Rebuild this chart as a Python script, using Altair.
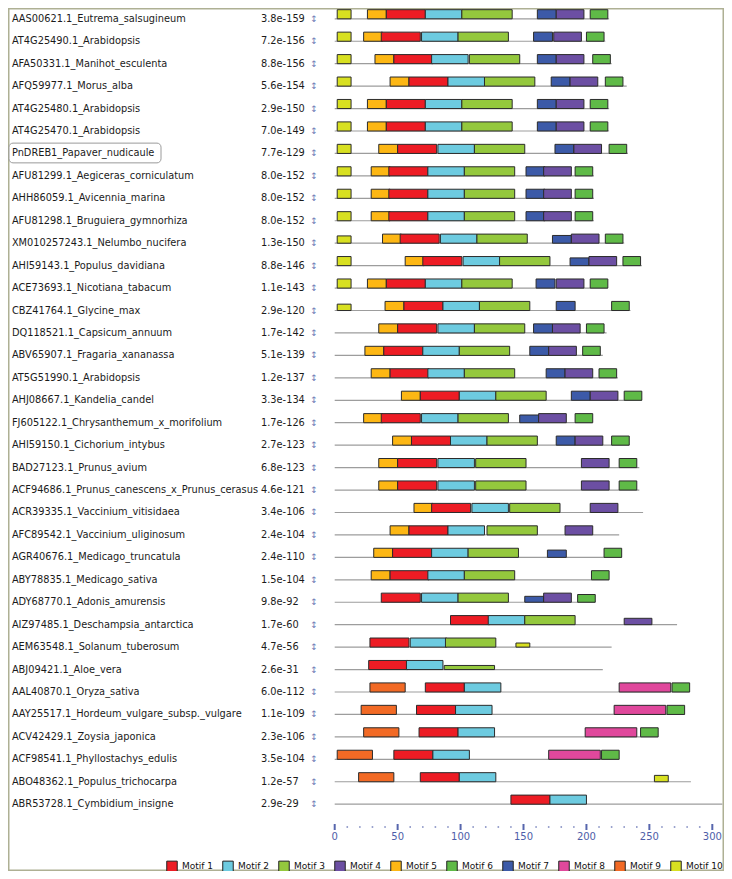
import altair as alt
import pandas as pd

# ---------------- data ----------------
names = [
    "AAS00621.1_Eutrema_salsugineum", "AT4G25490.1_Arabidopsis", "AFA50331.1_Manihot_esculenta",
    "AFQ59977.1_Morus_alba", "AT4G25480.1_Arabidopsis", "AT4G25470.1_Arabidopsis",
    "PnDREB1_Papaver_nudicaule", "AFU81299.1_Aegiceras_corniculatum", "AHH86059.1_Avicennia_marina",
    "AFU81298.1_Bruguiera_gymnorhiza", "XM010257243.1_Nelumbo_nucifera", "AHI59143.1_Populus_davidiana",
    "ACE73693.1_Nicotiana_tabacum", "CBZ41764.1_Glycine_max", "DQ118521.1_Capsicum_annuum",
    "ABV65907.1_Fragaria_xananassa", "AT5G51990.1_Arabidopsis", "AHJ08667.1_Kandelia_candel",
    "FJ605122.1_Chrysanthemum_x_morifolium", "AHI59150.1_Cichorium_intybus", "BAD27123.1_Prunus_avium",
    "ACF94686.1_Prunus_canescens_x_Prunus_cerasus", "ACR39335.1_Vaccinium_vitisidaea",
    "AFC89542.1_Vaccinium_uliginosum", "AGR40676.1_Medicago_truncatula", "ABY78835.1_Medicago_sativa",
    "ADY68770.1_Adonis_amurensis", "AIZ97485.1_Deschampsia_antarctica", "AEM63548.1_Solanum_tuberosum",
    "ABJ09421.1_Aloe_vera", "AAL40870.1_Oryza_sativa", "AAY25517.1_Hordeum_vulgare_subsp._vulgare",
    "ACV42429.1_Zoysia_japonica", "ACF98541.1_Phyllostachys_edulis", "ABO48362.1_Populus_trichocarpa",
    "ABR53728.1_Cymbidium_insigne",
]
pvalues = [
    "3.8e-159", "7.2e-156", "8.8e-156", "5.6e-154", "2.9e-150", "7.0e-149", "7.7e-129", "8.0e-152",
    "8.0e-152", "8.0e-152", "1.3e-150", "8.8e-146", "1.1e-143", "2.9e-120", "1.7e-142", "5.1e-139",
    "1.2e-137", "3.3e-134", "1.7e-126", "2.7e-123", "6.8e-123", "4.6e-121", "3.4e-106", "2.4e-104",
    "2.4e-110", "1.5e-104", "9.8e-92", "1.7e-60", "4.7e-56", "2.6e-31", "6.0e-112", "1.1e-109",
    "2.3e-106", "3.5e-104", "1.2e-57", "2.9e-29",
]
lengths = [218, 215, 220, 232, 218, 218, 233, 206, 206, 206, 230, 244, 217, 235, 216, 213, 225, 244,
           205, 234, 242, 242, 245, 226, 228, 218, 207, 272, 220, 213, 282, 278, 257, 226, 283, 308]

# (motif, start[, relative site strength])
sites = [
    [(10, 2), (5, 26), (1, 41), (2, 72), (3, 101), (7, 161), (4, 176), (6, 203)],
    [(10, 2), (5, 23), (1, 37), (2, 69), (3, 98), (7, 158), (4, 174), (6, 200)],
    [(10, 2), (5, 32), (1, 47), (2, 77), (3, 107), (7, 161), (4, 176), (6, 205)],
    [(10, 2), (5, 44), (1, 59), (2, 90), (3, 119), (7, 172), (4, 187), (6, 215)],
    [(10, 2), (5, 26), (1, 41), (2, 72), (3, 101), (7, 161), (4, 176), (6, 203)],
    [(10, 2), (5, 26), (1, 41), (2, 72), (3, 101), (7, 161), (4, 176), (6, 203)],
    [(10, 2), (5, 35), (1, 50), (2, 82), (3, 111), (7, 175), (4, 190), (6, 218)],
    [(10, 2), (5, 29), (1, 43), (2, 74), (3, 103), (7, 152), (4, 166), (6, 191)],
    [(10, 2), (5, 29), (1, 43), (2, 74), (3, 103), (7, 152), (4, 166), (6, 191)],
    [(10, 2), (5, 29), (1, 43), (2, 74), (3, 103), (7, 152), (4, 166), (6, 191)],
    [(10, 2, 0.8), (5, 38), (1, 52), (2, 84), (3, 113), (7, 173, 0.85), (4, 188), (6, 215)],
    [(10, 2), (5, 56), (1, 70), (2, 102), (3, 131), (7, 187, 0.85), (4, 202), (6, 229)],
    [(10, 2), (5, 26), (1, 41), (2, 72), (3, 101), (7, 160), (4, 176), (6, 203)],
    [(10, 2, 0.7), (5, 40), (1, 55), (2, 86), (3, 115), (7, 176), (6, 220)],
    [(5, 35), (1, 50), (2, 82), (3, 111), (7, 158), (4, 173), (6, 200)],
    [(5, 24), (1, 39), (2, 70), (3, 99), (7, 155), (4, 170), (6, 197)],
    [(5, 29), (1, 44), (2, 74), (3, 103), (7, 168), (4, 183), (6, 210)],
    [(5, 53), (1, 68), (2, 99), (3, 128), (7, 188), (4, 203), (6, 230)],
    [(5, 23), (1, 37), (2, 69), (3, 98), (7, 147, 0.85), (4, 162), (6, 191)],
    [(5, 46), (1, 61), (2, 92), (3, 121), (7, 176), (4, 191), (6, 220)],
    [(5, 35), (1, 50), (2, 82), (3, 112), (4, 196), (6, 226)],
    [(5, 35), (1, 50), (2, 82), (3, 112), (4, 196), (6, 226)],
    [(5, 63), (1, 77), (2, 109), (3, 139), (4, 203)],
    [(5, 44), (1, 59), (2, 90), (3, 121), (4, 183)],
    [(5, 31), (1, 46), (2, 77), (3, 106), (7, 169, 0.8), (6, 214)],
    [(5, 29), (1, 44), (2, 74), (3, 103), (6, 204)],
    [(1, 37), (2, 69), (3, 98), (7, 151, 0.65), (4, 166), (6, 193, 0.85)],
    [(1, 92), (2, 122), (3, 151), (4, 230, 0.7)],
    [(1, 28), (2, 60), (3, 88), (10, 144, 0.45)],
    [(1, 27), (2, 57), (3, 87, 0.45)],
    [(9, 28), (1, 72), (2, 103), (8, 226), (6, 268)],
    [(9, 21), (1, 65), (2, 96), (8, 222), (6, 264)],
    [(9, 23), (1, 67), (2, 98), (8, 199), (6, 243)],
    [(9, 2), (1, 47), (2, 78), (8, 170), (6, 212)],
    [(9, 19), (1, 68), (2, 99), (10, 254, 0.7)],
    [(1, 140), (2, 171)],
]
motif_widths = {1: 31, 2: 29, 3: 40, 4: 22, 5: 15, 6: 14, 7: 15, 8: 41, 9: 28, 10: 11}
motif_labels = [f"Motif {i}" for i in range(1, 11)]
motif_colors = ["#ed1c24", "#6dcbe0", "#94c83d", "#6c4fa3", "#fdb714",
                "#5fba47", "#3c5aa8", "#e0489c", "#f26a25", "#d8e021"]
highlighted = "PnDREB1_Papaver_nudicaule"
major_ticks = [0, 50, 100, 150, 200, 250, 300]
minor_ticks = [t for t in range(10, 300, 10) if t % 50 != 0]

# ---------------- layout ----------------
W, H = 716, 863
X0, PX = 326.7, 1.2587   # pixel of position 0, pixels per residue
Y0, DY = 10.8, 22.44     # pixel of first sequence line, row spacing
BOX = 9.1 / DY           # full box height in row units
FONT = "DejaVu Sans"

xs = alt.Scale(domain=[-X0 / PX, (W - X0) / PX], range=[0, W], nice=False, zero=False)
ys = alt.Scale(domain=[-Y0 / DY, (H - Y0) / DY], range=[0, H], nice=False, zero=False)

rows_df = pd.DataFrame({
    "idx": list(range(len(names))), "name": names, "pvalue": pvalues,
    "length": lengths, "zero": [0] * len(names),
})
recs = []
for i, row in enumerate(sites):
    for s in row:
        m, st = s[0], s[1]
        k = s[2] if len(s) > 2 else 1.0
        recs.append({"idx": i, "motif": f"Motif {m}", "start": st,
                     "end": st + motif_widths[m], "top": i - BOX * k})
sites_df = pd.DataFrame(recs)
major_df = pd.DataFrame({"pos": major_ticks, "lab": [str(t) for t in major_ticks]})
minor_df = pd.DataFrame({"pos": minor_ticks})

frame = alt.Chart(pd.DataFrame({"f": [0]})).mark_rect(
    fillOpacity=0, stroke="#aeb094", strokeWidth=1.5
).encode(x=alt.value(0.75), x2=alt.value(715.25), y=alt.value(0.75), y2=alt.value(862.25))

highlight = alt.Chart(rows_df).transform_filter(
    alt.datum.name == highlighted
).transform_calculate(t="datum.idx - 0.46", b="datum.idx + 0.42").mark_rect(
    fill="white", stroke="#9a9a9a", strokeWidth=1, cornerRadius=4
).encode(x=alt.value(1), x2=alt.value(153),
         y=alt.Y("t:Q", scale=ys, axis=None), y2="b:Q")

lines = alt.Chart(rows_df).mark_rule(color="#9d9d9d", strokeWidth=1.2).encode(
    x=alt.X("zero:Q", scale=xs, axis=None), x2="length:Q",
    y=alt.Y("idx:Q", scale=ys, axis=None))

boxes = alt.Chart(sites_df).mark_rect(stroke="#2b2b2b", strokeWidth=1, opacity=1).encode(
    x=alt.X("start:Q", scale=xs, axis=None), x2="end:Q",
    y=alt.Y("top:Q", scale=ys, axis=None), y2="idx:Q",
    color=alt.Color("motif:N", scale=alt.Scale(domain=motif_labels, range=motif_colors),
                    legend=alt.Legend(title=None, orient="none", direction="horizontal",
                                      legendX=158, legendY=852, symbolType="square",
                                      symbolSize=110, symbolStrokeColor="#222",
                                      symbolStrokeWidth=1, symbolOpacity=1,
                                      labelFont=FONT, labelFontSize=9, labelColor="#111",
                                      labelOffset=4, columnPadding=6, gridAlign="each",
                                      padding=0)))

labels = alt.Chart(rows_df).mark_text(
    align="left", baseline="middle", font=FONT, fontSize=9.8, color="#1b1b1b"
).encode(x=alt.value(3.9), y=alt.Y("idx:Q", scale=ys, axis=None), text="name:N")

pvals = alt.Chart(rows_df).mark_text(
    align="left", baseline="middle", font=FONT, fontSize=9.8, color="#1b1b1b"
).encode(x=alt.value(253), y=alt.Y("idx:Q", scale=ys, axis=None), text="pvalue:N")

arrows = alt.Chart(rows_df).mark_text(
    text="↕", align="center", baseline="middle", font=FONT, fontSize=9, color="#6d7ab5"
).encode(x=alt.value(306), y=alt.Y("idx:Q", scale=ys, axis=None))

major = alt.Chart(major_df).mark_rule(color="#5766ad", strokeWidth=2).encode(
    x=alt.X("pos:Q", scale=xs, axis=None), y=alt.value(816), y2=alt.value(822))
minor = alt.Chart(minor_df).mark_square(size=2.5, color="#7f8ac0", opacity=1).encode(
    x=alt.X("pos:Q", scale=xs, axis=None), y=alt.value(819))
ticklabels = alt.Chart(major_df).mark_text(
    baseline="middle", font=FONT, fontSize=10, color="#4e5ea8"
).encode(x=alt.X("pos:Q", scale=xs, axis=None), y=alt.value(828.5), text="lab:N")

chart = alt.layer(
    frame, highlight, lines, boxes, labels, pvals, arrows, major, minor, ticklabels
).properties(
    width=W, height=H, autosize=alt.AutoSizeParams(type="none"), padding=0
).configure_view(strokeWidth=0)

chart.save("out.html", embed_options={"renderer": "svg", "actions": False})
